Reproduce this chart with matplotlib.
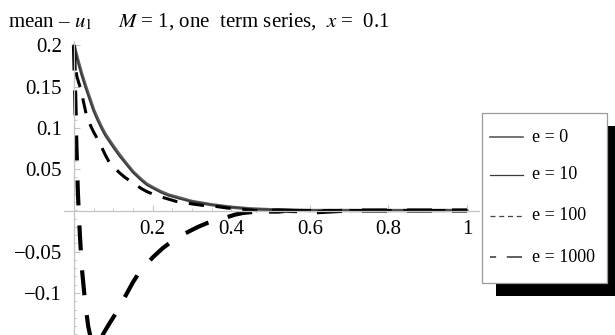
import numpy as np
import matplotlib
matplotlib.use("Agg")
import matplotlib.pyplot as plt
from matplotlib.patches import Rectangle
from matplotlib.lines import Line2D

plt.rcParams['font.family'] = ['Liberation Serif', 'DejaVu Serif']
plt.rcParams['mathtext.fontset'] = 'stix'

# values
x_e0 = [0, 0.005, 0.01, 0.02, 0.03, 0.04, 0.05, 0.06, 0.07, 0.08, 0.09, 0.1, 0.115, 0.133, 0.15, 0.17, 0.185,
        0.2, 0.22, 0.24, 0.27, 0.3, 0.35, 0.4, 0.45, 0.5, 0.6, 0.7, 0.8, 0.9, 1.0]
y_e0 = [0.2, 0.191, 0.182, 0.165, 0.15, 0.136, 0.122, 0.111, 0.101, 0.092, 0.085, 0.078, 0.068, 0.057, 0.047,
        0.038, 0.032, 0.028, 0.023, 0.019, 0.015, 0.011, 0.007, 0.004, 0.002, 0.001, 0.0, 0.0, 0.0, 0.0, 0.0]

x_e10 = [0, 0.005, 0.01, 0.02, 0.03, 0.04, 0.05, 0.06, 0.07, 0.08, 0.09, 0.1, 0.115, 0.133, 0.15, 0.17, 0.185,
         0.2, 0.22, 0.24, 0.27, 0.3, 0.35, 0.4, 0.45, 0.5, 0.6, 0.7, 0.8, 0.9, 1.0]
y_e10 = [0.2, 0.19, 0.18, 0.163, 0.148, 0.134, 0.12, 0.109, 0.099, 0.09, 0.083, 0.076, 0.066, 0.056, 0.046,
         0.037, 0.031, 0.027, 0.022, 0.018, 0.014, 0.011, 0.007, 0.004, 0.002, 0.001, 0.0, 0.0, 0.0, 0.0, 0.0]

x_e100 = [0, 0.003, 0.007, 0.012, 0.018, 0.024, 0.03, 0.036, 0.043, 0.05, 0.057, 0.064, 0.072, 0.08, 0.088, 0.094,
          0.105, 0.115, 0.13, 0.145, 0.158, 0.17, 0.185, 0.2, 0.225, 0.26, 0.3, 0.33, 0.36, 0.39, 0.42, 0.46,
          0.48, 0.5, 0.52, 0.54, 0.57, 0.6, 0.7, 0.8, 0.9, 1.0]
y_e100 = [0.2, 0.178, 0.163, 0.155, 0.146, 0.132, 0.119, 0.11, 0.102, 0.095, 0.089, 0.083, 0.075, 0.067, 0.06, 0.056,
          0.051, 0.046, 0.04, 0.035, 0.031, 0.027, 0.023, 0.02, 0.016, 0.011, 0.008, 0.006, 0.005, 0.003, 0.002, 0.0,
          -0.001, -0.002, -0.002, -0.001, 0.0, 0.0, 0.0, 0.0, 0.0, 0.0]

x_e1000 = [0, 0.003, 0.006, 0.01, 0.015, 0.02, 0.028, 0.036, 0.045, 0.055, 0.065, 0.075, 0.09, 0.11, 0.135, 0.15,
           0.166, 0.185, 0.2, 0.225, 0.247, 0.27, 0.29, 0.315, 0.34, 0.365, 0.39, 0.41, 0.43, 0.47, 0.52, 0.58,
           0.62, 0.66, 0.7, 0.8, 0.9, 1.0]
y_e1000 = [0.2, 0.14, 0.08, 0.02, -0.03, -0.07, -0.11, -0.14, -0.16, -0.168, -0.16, -0.149, -0.137, -0.122, -0.1, -0.087,
           -0.075, -0.065, -0.057, -0.046, -0.038, -0.031, -0.026, -0.02, -0.015, -0.011, -0.008, -0.005, -0.003, -0.001,
           0.0, -0.001, -0.002, -0.001, 0.0, 0.0, 0.0, 0.0]

labels = ['e = 0', 'e = 10', 'e = 100', 'e = 1000']
x_ticks = [0.2, 0.4, 0.6, 0.8, 1.0]
x_ticklabels = ['0.2', '0.4', '0.6', '0.8', '1']
y_ticks = [-0.1, -0.05, 0.05, 0.1, 0.15, 0.2]
y_ticklabels = ['\u22120.1', '\u22120.05', '0.05', '0.1', '0.15', '0.2']

W, H = 615, 335
fig = plt.figure(figsize=(W / 100, H / 100), dpi=100)
ax = fig.add_axes([0, 0, 1, 1])
ax.patch.set_alpha(0)

# pixel mapping: x=0 -> 74px, x=1 -> 467px ; y=0 -> 210.5px, 825 px per unit
x0, sx = 74, 393
y0, sy = 210.5, 825
ax.set_xlim(-x0 / sx, (W - x0) / sx)
ax.set_ylim((y0 - H) / sy, y0 / sy)

ax.plot(x_e0, y_e0, color='#5c5c5c', lw=2.4, solid_capstyle='round', solid_joinstyle='round')
ax.plot(x_e10, y_e10, color='#3a3a3a', lw=1.0)
ax.plot(x_e100, y_e100, color='black', lw=2.2, linestyle=(0, (5, 3.8)))
ax.plot(x_e1000, y_e1000, color='black', lw=3.0, linestyle=(0, (6, 4.8)))

# Mathematica-style axes through the origin
for s in ['top', 'right']:
    ax.spines[s].set_visible(False)
ax.spines['left'].set_position(('data', 0))
ax.spines['bottom'].set_position(('data', 0))
ax.spines['left'].set_bounds(-0.16, 0.205)
ax.spines['bottom'].set_bounds(-0.025, 1.03)
for s in ['left', 'bottom']:
    ax.spines[s].set_color('#c4c4c4')
    ax.spines[s].set_linewidth(0.9)

ax.set_xticks(x_ticks)
ax.set_xticklabels(x_ticklabels)
ax.set_yticks(y_ticks)
ax.set_yticklabels(y_ticklabels)
ax.set_xticks(np.arange(0.05, 1.0, 0.05), minor=True)
ax.set_yticks(np.arange(-0.15, 0.2, 0.01), minor=True)
ax.tick_params(which='major', direction='in', length=4, width=0.8, color='#c4c4c4', labelsize=15)
ax.tick_params(which='minor', direction='in', length=2, width=0.6, color='#c4c4c4')
ax.tick_params(axis='y', which='major', pad=8.5)
ax.tick_params(axis='x', which='major', pad=7)

# title texts
fig.text(8 / W, 1 - 27 / H, 'mean \u2013 $u_{1}$', fontsize=15, va='baseline')
fig.text(118 / W, 1 - 27 / H, '$M$ = 1, one  term series,  $x$ =  0.1', fontsize=15, va='baseline')

# legend with hard black shadow
def fx(px):
    return px / W

def fy(py):
    return 1 - py / H

bx0, by0, bx1, by1 = 482, 113, 607, 283
off = 14
fig.add_artist(Rectangle((fx(bx0 + off), fy(by1 + off - 1)), fx(bx1 - bx0), (by1 - by0) / H,
                         transform=fig.transFigure, facecolor='black', edgecolor='none', zorder=5))
fig.add_artist(Rectangle((fx(bx0), fy(by1)), fx(bx1 - bx0), (by1 - by0) / H,
                         transform=fig.transFigure, facecolor='white', edgecolor='#9a9a9a', lw=0.9, zorder=6))

handle_styles = [
    dict(color='#5c5c5c', lw=1.2, linestyle='-'),
    dict(color='#3a3a3a', lw=0.9, linestyle='-'),
    dict(color='#444444', lw=0.9, linestyle=(0, (4, 3))),
    dict(color='#333333', lw=1.1, linestyle=(6, (10, 7))),
]
rows = [137, 175, 216, 257]
for lab, st, ry in zip(labels, handle_styles, rows):
    fig.add_artist(Line2D([fx(490), fx(523)], [fy(ry), fy(ry)], transform=fig.transFigure, zorder=7, **st))
    fig.text(fx(532), fy(ry), lab, fontsize=13, va='center', ha='left', zorder=7)

fig.savefig('out.png', dpi=100)
